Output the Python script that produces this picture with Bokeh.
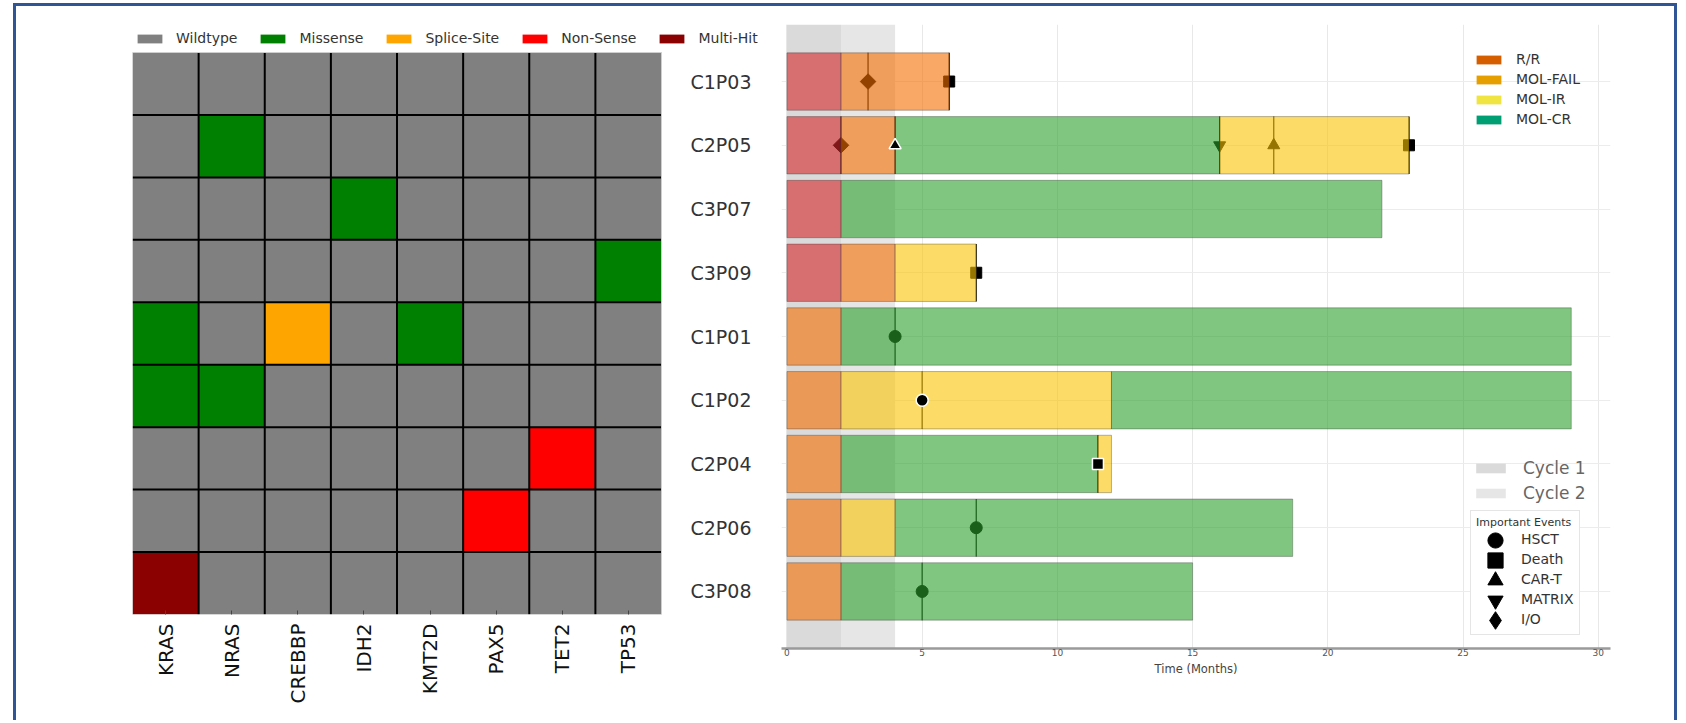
import math
from bokeh.plotting import figure
from bokeh.models import Range1d, FixedTicker, Legend, LegendItem, ColumnDataSource
from bokeh.embed import file_html
from bokeh.resources import INLINE

FONT = "DejaVu Sans"
NAN = float("nan")

# ---------------- data ----------------
genes = ["KRAS", "NRAS", "CREBBP", "IDH2", "KMT2D", "PAX5", "TET2", "TP53"]
patients = ["C1P03", "C2P05", "C3P07", "C3P09", "C1P01", "C1P02", "C2P04", "C2P06", "C3P08"]

mutation_types = ["Wildtype", "Missense", "Splice-Site", "Non-Sense", "Multi-Hit"]
mutation_colors = ["#808080", "#008000", "#FFA500", "#FF0000", "#8B0000"]

mut_patient = ["C2P05", "C3P07", "C3P09", "C1P01", "C1P01", "C1P01", "C1P02", "C1P02", "C2P04", "C2P06", "C3P08"]
mut_gene = ["NRAS", "IDH2", "TP53", "KRAS", "CREBBP", "KMT2D", "KRAS", "NRAS", "TET2", "PAX5", "KRAS"]
mut_type = ["Missense", "Missense", "Missense", "Missense", "Splice-Site", "Missense",
            "Missense", "Missense", "Non-Sense", "Non-Sense", "Multi-Hit"]

states = ["R/R", "MOL-FAIL", "MOL-IR", "MOL-CR"]
state_bar_colors = ["#d62728", "#f56e00", "#fac500", "#2ca02c"]
state_legend_colors = ["#D55E00", "#E69F00", "#F0E442", "#009E73"]

seg_patient = ["C1P03", "C1P03",
               "C2P05", "C2P05", "C2P05", "C2P05",
               "C3P07", "C3P07",
               "C3P09", "C3P09", "C3P09",
               "C1P01", "C1P01",
               "C1P02", "C1P02", "C1P02",
               "C2P04", "C2P04", "C2P04",
               "C2P06", "C2P06", "C2P06",
               "C3P08", "C3P08"]
seg_start = [0, 2,
             0, 2, 4, 16,
             0, 2,
             0, 2, 4,
             0, 2,
             0, 2, 12,
             0, 2, 11.5,
             0, 2, 4,
             0, 2]
seg_end = [2, 6,
           2, 4, 16, 23,
           2, 22,
           2, 4, 7,
           2, 29,
           2, 12, 29,
           2, 11.5, 12,
           2, 4, 18.7,
           2, 15]
seg_state = ["R/R", "MOL-FAIL",
             "R/R", "MOL-FAIL", "MOL-CR", "MOL-IR",
             "R/R", "MOL-CR",
             "R/R", "MOL-FAIL", "MOL-IR",
             "MOL-FAIL", "MOL-CR",
             "MOL-FAIL", "MOL-IR", "MOL-CR",
             "MOL-FAIL", "MOL-CR", "MOL-IR",
             "MOL-FAIL", "MOL-IR", "MOL-CR",
             "MOL-FAIL", "MOL-CR"]

cycles = ["Cycle 1", "Cycle 2"]
cycle_start = [0, 2]
cycle_end = [2, 4]
cycle_colors = ["#dadada", "#e6e6e6"]

event_types = ["HSCT", "Death", "CAR-T", "MATRIX", "I/O"]
ev_patient = ["C1P03", "C1P03", "C2P05", "C2P05", "C2P05", "C2P05", "C2P05",
              "C3P09", "C1P01", "C1P02", "C2P04", "C2P06", "C3P08"]
ev_time = [3, 6, 2, 4, 16, 18, 23, 7, 4, 5, 11.5, 7, 5]
ev_type = ["I/O", "Death", "I/O", "CAR-T", "MATRIX", "CAR-T", "Death",
           "Death", "HSCT", "HSCT", "Death", "HSCT", "HSCT"]
ev_front = [False, False, False, True, False, False, False,
            False, False, True, True, False, False]

x_ticks = [0, 5, 10, 15, 20, 25, 30]

# ---------------- styles ----------------
BAR_H = 0.9
marker_of = {"HSCT": "circle", "Death": "square", "CAR-T": "triangle",
             "MATRIX": "inverted_triangle", "I/O": "square"}
angle_of = {"HSCT": 0, "Death": 0, "CAR-T": 0, "MATRIX": 0, "I/O": math.pi / 4}
size_of = {"HSCT": 12, "Death": 11, "CAR-T": 12, "MATRIX": 12, "I/O": 11}
legend_marker_of = {"HSCT": "circle", "Death": "square", "CAR-T": "triangle",
                    "MATRIX": "inverted_triangle", "I/O": "diamond"}
FRAME = "3px solid #2F5597"

# ================= heatmap =================
ng, npat = len(genes), len(patients)
TOP_PAD = 0.4484   # free rows above the cells, room for the legend
RIGHT_PAD = 1.648  # free columns right of the cells, room for the legend
p1 = figure(width=759, height=717,
            x_range=Range1d(0, ng + RIGHT_PAD), y_range=Range1d(npat, -TOP_PAD),
            y_axis_location=None,
            output_backend="svg", toolbar_location=None,
            min_border_left=116, min_border_right=5,
            min_border_top=18, min_border_bottom=109)
p1.styles = {"position": "absolute", "left": "13px", "top": "3px",
             "border-top": FRAME, "border-left": FRAME}
p1.xgrid.visible = False
p1.ygrid.visible = False
p1.outline_line_color = None

lookup = {(p, g): t for p, g, t in zip(mut_patient, mut_gene, mut_type)}
heat_items = []
for t, c in zip(mutation_types, mutation_colors):
    xs, ys = [], []
    for pi_, pt in enumerate(patients):
        for gi, g in enumerate(genes):
            if lookup.get((pt, g), "Wildtype") == t:
                xs.append(gi + 0.5)
                ys.append(pi_ + 0.5)
    r = p1.rect(x=xs, y=ys, width=1, height=1, fill_color=c, line_color=None)
    heat_items.append(LegendItem(label=t, renderers=[r]))

# cell separators
vx = list(range(1, ng))
p1.segment(x0=vx, x1=vx, y0=[0] * len(vx), y1=[npat] * len(vx), line_color="black", line_width=2)
hy = list(range(1, npat))
p1.segment(x0=[0] * len(hy), x1=[ng] * len(hy), y0=hy, y1=hy, line_color="black", line_width=2)
p1.quad(left=[0], right=[ng], bottom=[npat], top=[0], fill_color=None,
        line_color="#cfcfcf", line_width=1)

p1.xaxis.ticker = FixedTicker(ticks=[i + 0.5 for i in range(ng)])
p1.xaxis.major_label_overrides = {i + 0.5: g for i, g in enumerate(genes)}
p1.xaxis.major_label_orientation = math.pi / 2
p1.xaxis.major_label_text_font = FONT
p1.xaxis.major_label_text_font_size = "20px"
p1.xaxis.major_label_text_color = "#111111"
p1.xaxis.major_label_standoff = 9
p1.xaxis.axis_line_color = None
p1.xaxis.major_tick_in = 4
p1.xaxis.major_tick_out = 0
p1.xaxis.major_tick_line_color = "#444444"

leg1 = Legend(items=heat_items, orientation="horizontal", location=(2, 568),
              glyph_width=31, glyph_height=11, label_standoff=11, spacing=20,
              padding=0, margin=0, border_line_color=None, background_fill_alpha=0,
              label_text_font=FONT, label_text_font_size="14px", label_text_color="#333333")
p1.add_layout(leg1)

# ================= timeline =================
n = len(patients)
p2 = figure(width=990, height=717,
            x_range=Range1d(-0.2, 30.45), y_range=Range1d(n - 1 + 0.895, -0.895),
            output_backend="svg", toolbar_location=None,
            min_border_left=90, min_border_right=67,
            min_border_top=18, min_border_bottom=75)
p2.styles = {"position": "absolute", "left": "687px", "top": "3px",
             "border-top": FRAME, "border-right": FRAME}
p2.border_fill_alpha = 0
p2.outline_line_color = None
pidx = {p: i for i, p in enumerate(patients)}

ylo, yhi = -0.895, n - 1 + 0.895
band_renderers = []
for name, s, e, c in zip(cycles, cycle_start, cycle_end, cycle_colors):
    r = p2.quad(left=[s], right=[e], bottom=[ylo], top=[yhi], fill_color=c, line_color=None)
    band_renderers.append(r)

ey = [pidx[p] for p in ev_patient]
p2.segment(x0=ev_time, x1=ev_time,
           y0=[y - BAR_H / 2 for y in ey], y1=[y + BAR_H / 2 for y in ey],
           line_color="black", line_width=1.2)


def ev_source(front):
    d = dict(x=[], y=[], marker=[], size=[], angle=[])
    for p, t, k, f in zip(ev_patient, ev_time, ev_type, ev_front):
        if f == front:
            d["x"].append(t)
            d["y"].append(pidx[p])
            d["marker"].append(marker_of[k])
            d["size"].append(size_of[k])
            d["angle"].append(angle_of[k])
    return ColumnDataSource(d)


p2.scatter(x="x", y="y", marker="marker", size="size", angle="angle",
           source=ev_source(False), fill_color="black", line_color="black")

state_col = dict(zip(states, state_bar_colors))
p2.hbar(y=[pidx[p] for p in seg_patient], left=seg_start, right=seg_end, height=BAR_H,
        fill_color=[state_col[s] for s in seg_state], fill_alpha=0.6,
        line_color="#333333", line_alpha=0.35, line_width=1)

p2.scatter(x="x", y="y", marker="marker", size="size", angle="angle",
           source=ev_source(True), fill_color="black", line_color="white", line_width=1.5)

# axes
p2.xaxis.ticker = FixedTicker(ticks=x_ticks)
p2.xaxis.axis_label = "Time (Months)"
p2.xaxis.axis_label_text_font = FONT
p2.xaxis.axis_label_text_font_size = "11.5px"
p2.xaxis.axis_label_text_font_style = "normal"
p2.xaxis.axis_label_text_color = "#444444"
p2.xaxis.axis_label_standoff = 3
p2.xaxis.major_label_text_font = FONT
p2.xaxis.major_label_text_font_size = "9px"
p2.xaxis.major_label_text_color = "#555555"
p2.xaxis.major_label_standoff = 0
p2.xaxis.axis_line_color = "#9a9a9a"
p2.xaxis.axis_line_width = 2.5
p2.xaxis.major_tick_in = 0
p2.xaxis.major_tick_out = 0

p2.yaxis.ticker = FixedTicker(ticks=list(range(n)))
p2.yaxis.major_label_overrides = {i: p for i, p in enumerate(patients)}
p2.yaxis.major_label_text_font = FONT
p2.yaxis.major_label_text_font_size = "19px"
p2.yaxis.major_label_text_color = "#333333"
p2.yaxis.major_label_standoff = 24
p2.yaxis.axis_line_color = None
p2.yaxis.major_tick_line_color = None
p2.yaxis.minor_tick_line_color = None

p2.xgrid.grid_line_color = "#e8e8e8"
p2.ygrid.grid_line_color = "#ececec"

# legends (positions in px from the frame's bottom-left corner)
state_items = []
for s, c in zip(states, state_legend_colors):
    r = p2.quad(left=[NAN], right=[NAN], bottom=[NAN], top=[NAN], fill_color=c, line_color=None)
    state_items.append(LegendItem(label=s, renderers=[r]))
leg_state = Legend(items=state_items, location=(692, 521),
                   glyph_width=31, glyph_height=11, label_standoff=12, spacing=4,
                   padding=0, margin=0, border_line_color=None, background_fill_alpha=0,
                   label_text_font=FONT, label_text_font_size="14px", label_text_color="#333333")
p2.add_layout(leg_state)

cycle_items = [LegendItem(label=c, renderers=[r]) for c, r in zip(cycles, band_renderers)]
leg_cycle = Legend(items=cycle_items, location=(691, 145),
                   glyph_width=37, glyph_height=12, label_standoff=14, spacing=5,
                   padding=0, margin=0, border_line_color=None, background_fill_alpha=0,
                   label_text_font=FONT, label_text_font_size="17px", label_text_color="#666666")
p2.add_layout(leg_cycle)

# events legend: box, title and labels ...
label_items = []
for k in event_types:
    r = p2.scatter(x=[NAN], y=[NAN], marker="circle", size=5, fill_alpha=0, line_alpha=0)
    label_items.append(LegendItem(label=k, renderers=[r]))
leg_event = Legend(items=label_items, location=(689, 13), title="Important Events",
                   title_text_font=FONT, title_text_font_size="11px", title_text_font_style="normal",
                   title_text_color="#333333", title_standoff=0,
                   glyph_width=38, glyph_height=20, label_standoff=7, spacing=0,
                   padding=5, margin=0, border_line_color="#cccccc", border_line_width=1,
                   background_fill_color="white", background_fill_alpha=1,
                   label_text_font=FONT, label_text_font_size="14px", label_text_color="#333333")
p2.add_layout(leg_event)

# ... and its (larger) marker keys, one per row
for j, k in enumerate(event_types):
    key = 44 if k == "I/O" else 38
    r = p2.scatter(x=[NAN], y=[NAN], marker=legend_marker_of[k], size=10,
                   fill_color="black", line_color="black")
    center_from_bottom = 108 - 20 * j
    lg = Legend(items=[LegendItem(label=" ", renderers=[r])],
                location=(714 - key // 2, center_from_bottom - key // 2),
                glyph_width=key, glyph_height=key, label_standoff=0, spacing=0,
                padding=0, margin=0, border_line_color=None, background_fill_alpha=0,
                label_text_font=FONT, label_text_font_size="8px")
    p2.add_layout(lg)

open("out.html", "w").write(file_html([p1, p2], INLINE))
